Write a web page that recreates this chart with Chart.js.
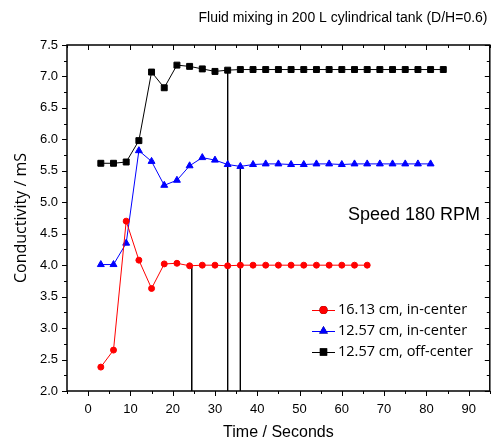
<!DOCTYPE html>
<html>
<head>
<meta charset="utf-8">
<script src="https://cdn.jsdelivr.net/npm/chart.js@4/dist/chart.umd.min.js"></script>
<style>
  body { margin: 0; background: #fff; }
  canvas { display: block; }
</style>
</head>
<body>
<canvas id="mixChart" width="495" height="442"></canvas>
<script>
// time in seconds for each probe
var redTimes = [3, 6, 9, 12, 15, 18, 21, 24, 27, 30, 33, 36, 39, 42, 45, 48, 51, 54, 57, 60, 63, 66];
var blueTimes = [3, 6, 9, 12, 15, 18, 21, 24, 27, 30, 33, 36, 39, 42, 45, 48, 51, 54, 57, 60, 63, 66, 69, 72, 75, 78, 81];
var blackTimes = [3, 6, 9, 12, 15, 18, 21, 24, 27, 30, 33, 36, 39, 42, 45, 48, 51, 54, 57, 60, 63, 66, 69, 72, 75, 78, 81, 84];

// conductivity in mS
var redValues = [2.38, 2.65, 4.70, 4.08, 3.63, 4.02, 4.03, 3.99, 4.00, 4.00, 3.99, 4.00, 4.00, 4.00, 4.00, 4.00, 4.00, 4.00, 4.00, 4.00, 4.00, 4.00];
var blueValues = [4.01, 4.01, 4.35, 5.82, 5.65, 5.27, 5.35, 5.58, 5.71, 5.67, 5.60, 5.57, 5.60, 5.61, 5.61, 5.60, 5.60, 5.61, 5.61, 5.60, 5.61, 5.61, 5.61, 5.61, 5.61, 5.61, 5.61];
var blackValues = [5.62, 5.62, 5.64, 5.98, 7.07, 6.82, 7.18, 7.16, 7.12, 7.08, 7.10, 7.11, 7.11, 7.11, 7.11, 7.11, 7.11, 7.11, 7.11, 7.11, 7.11, 7.11, 7.11, 7.11, 7.11, 7.11, 7.11, 7.11];

var seriesLabels = ['16.13 cm, in-center', '12.57 cm, in-center', '12.57 cm, off-center'];

// mixing time markers (drop lines to the x axis)
var mixTimes = [24.5, 33, 36];
var mixLevels = [4.00, 7.10, 5.57];

var chartTitle = 'Fluid mixing in 200 L cylindrical tank (D/H=0.6)';
var speedNote = 'Speed 180 RPM';

function toPoints(times, values) {
    return times.map(function (t, i) { return { x: t, y: values[i] }; });
}

var datasets = [
    {
        label: seriesLabels[0],
        data: toPoints(redTimes, redValues),
        borderColor: '#ff0000', backgroundColor: '#ff0000',
        borderWidth: 1, pointStyle: 'circle', pointRadius: 3
    },
    {
        label: seriesLabels[1],
        data: toPoints(blueTimes, blueValues),
        borderColor: '#0000ff', backgroundColor: '#0000ff',
        borderWidth: 1, pointStyle: 'triangle', pointRadius: 4
    },
    {
        label: seriesLabels[2],
        data: toPoints(blackTimes, blackValues),
        borderColor: '#000000', backgroundColor: '#000000',
        borderWidth: 1, pointStyle: 'rect', pointRadius: 4.2
    }
];

mixTimes.forEach(function (t, i) {
    datasets.push({
        label: 'marker',
        data: [{ x: t, y: mixLevels[i] }, { x: t, y: 2.0 }],
        borderColor: '#000000', borderWidth: 1,
        pointRadius: 0
    });
});

// frame, origin style ticks, title, note and legend
var decorPlugin = {
    id: 'decor',
    afterDraw: function (chart) {
        var ctx = chart.ctx;
        var a = chart.chartArea;
        var xs = chart.scales.x;
        var ys = chart.scales.y;
        ctx.save();
        ctx.strokeStyle = '#000';
        ctx.lineWidth = 1.5;
        ctx.strokeRect(a.left, a.top, a.right - a.left, a.bottom - a.top);

        ctx.lineWidth = 1;
        ctx.beginPath();
        for (var v = -5; v <= 95; v += 5) {
            var px = Math.round(xs.getPixelForValue(v)) + 0.5;
            var len = (v % 10 === 0) ? 5 : 3;
            ctx.moveTo(px, a.bottom); ctx.lineTo(px, a.bottom + len);
            ctx.moveTo(px, a.top); ctx.lineTo(px, a.top + len);
        }
        for (var k = 0; k <= 22; k++) {
            var val = 2.0 + k * 0.25;
            var py = Math.round(ys.getPixelForValue(val)) + 0.5;
            var l2 = (k % 2 === 0) ? 5 : 3;
            ctx.moveTo(a.left, py); ctx.lineTo(a.left - l2, py);
            ctx.moveTo(a.right, py); ctx.lineTo(a.right - l2, py);
        }
        ctx.stroke();

        ctx.fillStyle = '#000';
        ctx.textBaseline = 'middle';
        ctx.font = '14px "Liberation Sans", Arial, sans-serif';
        ctx.textAlign = 'center';
        ctx.fillText(chartTitle, 343, 18);
        ctx.font = '18px "Liberation Sans", Arial, sans-serif';
        ctx.textAlign = 'left';
        ctx.fillText(speedNote, 348, 215);

        // legend
        var rowsY = [310, 331, 352];
        ctx.font = '14.5px "Open Sans", sans-serif';
        for (var i = 0; i < 3; i++) {
            var ds = chart.data.datasets[i];
            var yy = rowsY[i];
            ctx.strokeStyle = ds.borderColor;
            ctx.lineWidth = 1;
            ctx.beginPath();
            ctx.moveTo(312, yy + 0.5); ctx.lineTo(335, yy + 0.5);
            ctx.stroke();
            Chart.helpers.drawPoint(ctx, {
                pointStyle: ds.pointStyle, radius: ds.pointRadius + 1, borderWidth: 0, rotation: 0
            }, 323.5, yy);
            ctx.fillStyle = ds.backgroundColor;
            ctx.fill();
            ctx.fillStyle = '#000';
            ctx.fillText(ds.label, 338, yy);
        }
        ctx.restore();
    }
};

var ctx = document.getElementById('mixChart').getContext('2d');
var mixChart = new Chart(ctx, {
    type: 'line',
    data: { datasets: datasets },
    plugins: [decorPlugin],
    options: {
        responsive: false,
        animation: false,
        devicePixelRatio: 1,
        layout: { padding: { left: 0, right: 1, top: 45, bottom: 0 } },
        plugins: {
            legend: { display: false },
            tooltip: { enabled: false }
        },
        scales: {
            x: {
                type: 'linear',
                min: -5, max: 95,
                grid: { display: false, drawTicks: false },
                border: { display: false },
                ticks: {
                    stepSize: 5,
                    padding: 11,
                    maxRotation: 0,
                    autoSkip: false,
                    color: '#000',
                    font: { family: '"Liberation Sans", Arial, sans-serif', size: 13 },
                    callback: function (value) {
                        return (value >= 0 && value % 10 === 0) ? String(value) : '';
                    }
                },
                title: {
                    display: true,
                    text: 'Time / Seconds',
                    color: '#000',
                    font: { family: '"Liberation Sans", Arial, sans-serif', size: 16 },
                    padding: { top: 0, bottom: 0 }
                },
                afterFit: function (scale) {
                    scale.height = 51;
                    scale.paddingLeft = 0;
                    scale.paddingRight = 0;
                }
            },
            y: {
                min: 2.0, max: 7.5,
                grid: { display: false, drawTicks: false },
                border: { display: false },
                ticks: {
                    stepSize: 0.5,
                    padding: 9,
                    autoSkip: false,
                    color: '#000',
                    font: { family: '"Liberation Sans", Arial, sans-serif', size: 13 },
                    callback: function (value) { return value.toFixed(1); }
                },
                title: {
                    display: true,
                    text: 'Conductivity / mS',
                    color: '#000',
                    font: { family: '"Open Sans", sans-serif', size: 16 },
                    padding: { top: 12, bottom: 0 }
                },
                afterFit: function (scale) {
                    scale.width = 67;
                    scale.paddingTop = 0;
                    scale.paddingBottom = 0;
                }
            }
        }
    }
});
</script>
</body>
</html>
